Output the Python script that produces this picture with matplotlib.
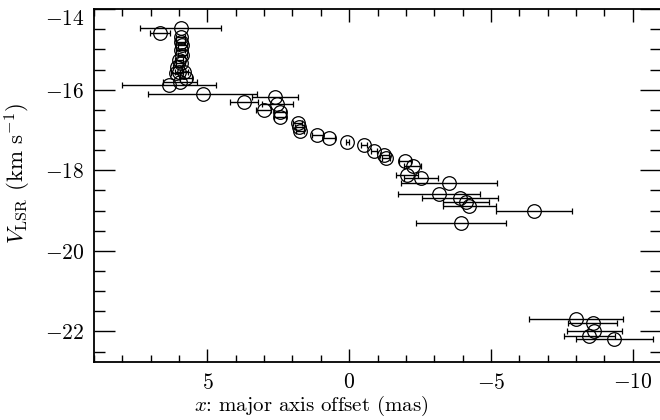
import matplotlib
matplotlib.use('Agg')
import matplotlib.pyplot as plt
from matplotlib.ticker import MultipleLocator

plt.rcParams['font.family'] = 'cmr10'
plt.rcParams['mathtext.fontset'] = 'cm'
plt.rcParams['axes.formatter.use_mathtext'] = True

# major axis offset (mas), velocity (km/s), offset error (mas)
x_off = [5.94, 6.67,
         5.94, 5.94, 5.88, 5.94, 5.88, 6.00, 5.94, 6.06, 6.00, 6.12, 5.82, 5.76, 5.97,
         6.35, 5.17,
         3.71, 2.61, 3.02, 2.53, 2.44, 2.44, 1.82, 1.76, 1.73, 1.12, 0.71, 0.06,
         -0.53, -0.87, -1.24, -1.30, -1.97, -2.24, -2.04, -2.53,
         -3.53, -3.18, -3.91, -4.12, -4.24, -6.53, -3.94,
         -8.00, -8.59, -8.65, -8.47, -9.35]
v_lsr = [-14.47, -14.59,
         -14.69, -14.81, -14.89, -15.01, -15.14, -15.26, -15.33, -15.43, -15.56, -15.58, -15.56, -15.71, -15.80,
         -15.88, -16.10,
         -16.30, -16.17, -16.50, -16.35, -16.54, -16.67, -16.82, -16.92, -17.02, -17.12, -17.20, -17.29,
         -17.38, -17.51, -17.62, -17.69, -17.78, -17.89, -18.11, -18.20,
         -18.31, -18.59, -18.69, -18.78, -18.88, -19.00, -19.30,
         -21.69, -21.79, -21.99, -22.10, -22.19]
x_err = [1.42, 0.35,
         0.15, 0.15, 0.15, 0.15, 0.15, 0.15, 0.15, 0.15, 0.15, 0.15, 0.15, 0.2, 0.59,
         1.65, 1.91,
         0.48, 0.80, 0.25, 0.55, 0.2, 0.2, 0.15, 0.15, 0.15, 0.2, 0.2, 0.05,
         0.1, 0.1, 0.15, 0.15, 0.2, 0.3, 0.4, 0.6,
         1.70, 1.44, 1.34, 0.80, 0.94, 1.34, 1.59,
         1.67, 0.86, 0.96, 0.90, 1.36]

fig = plt.figure(figsize=(6.6, 4.2), dpi=100)
ax = fig.add_axes([94 / 660, 58.3 / 420, 567 / 660, 352.5 / 420])

ax.errorbar(x_off, v_lsr, xerr=x_err, fmt='o', ms=9.8, mfc='none', mec='black',
            mew=0.9, ecolor='black', elinewidth=1.0, capsize=2.3, capthick=1.0)

ax.set_xlim(9, -11)
ax.set_ylim(-22.75, -14)

ax.xaxis.set_major_locator(MultipleLocator(5))
ax.xaxis.set_minor_locator(MultipleLocator(1))
ax.yaxis.set_major_locator(MultipleLocator(2))
ax.yaxis.set_minor_locator(MultipleLocator(0.5))

ax.tick_params(which='both', direction='in', top=True, right=True, width=1,
               labelsize=15.5)
ax.tick_params(axis='x', which='major', length=9.5, pad=8)
ax.tick_params(axis='x', which='minor', length=5)
ax.tick_params(axis='y', which='major', length=15, pad=7)
ax.tick_params(axis='y', which='minor', length=8)
for s in ax.spines.values():
    s.set_linewidth(1.3)

ax.set_xlabel(r'$x$: major axis offset (mas)', fontsize=15, va='top')
ax.xaxis.set_label_coords(0.383, -0.092)
ax.set_ylabel(r'$V_{\rm LSR}$ (km s$^{-1}$)', fontsize=16.5)
ax.yaxis.set_label_coords(-0.108, 0.535)

# top tick label sits below the frame edge
fig.canvas.draw()
for t in ax.yaxis.get_major_ticks():
    if abs(t.get_loc() + 14) < 1e-6:
        t.label1.set_verticalalignment('top')

fig.savefig('out.png', dpi=100)
